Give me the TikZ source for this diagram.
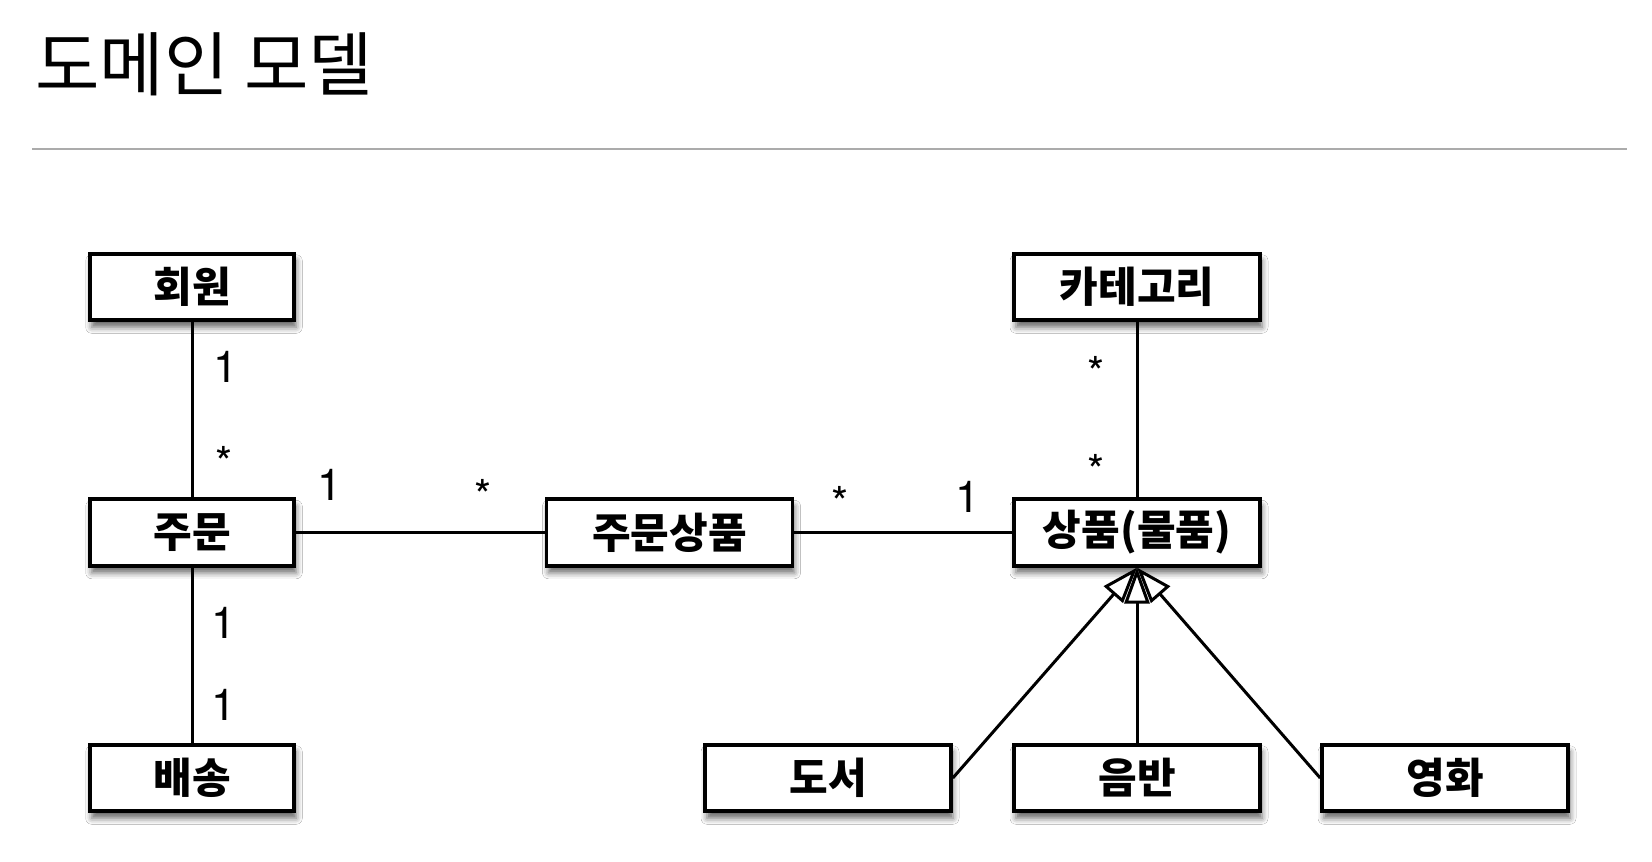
\documentclass[tikz,border=0pt]{standalone}
\usepackage{fontspec}
\setmainfont{TeX Gyre Heros}
\newfontfamily\kofont{Noto Sans CJK KR}
\usetikzlibrary{arrows.meta,shadows.blur}
\begin{document}
\begin{tikzpicture}[x=1pt,y=-1pt,
  cls/.style={draw, line width=3.6pt, fill=white, minimum height=66.5pt, inner sep=0pt,
    font=\kofont\bfseries\fontsize{42}{50}\selectfont,
    blur shadow={shadow xshift=2pt, shadow yshift=-7pt, shadow blur radius=6pt, shadow opacity=60}},
  narrow/.style={cls, minimum width=204.5pt},
  wide/.style={cls, minimum width=246pt},
  assoc/.style={line width=3pt},
  gen/.style={line width=3pt, -{Triangle[fill=white, length=36pt, width=25pt]}},
  mult/.style={font=\fontsize{44}{50}\selectfont, inner sep=0pt, anchor=base},
  rulestyle/.style={line width=1.8pt, color=black!33}
]
\useasboundingbox[fill=white] (0,0) rectangle (1652,862);
% title
\node[anchor=west, inner sep=0pt, font=\kofont\fontsize{70}{80}\selectfont] (title) at (35,64) {도메인 모델};
\coordinate (ruleL) at (32,149);
\coordinate (ruleR) at (1627,149);
\draw[rulestyle] (ruleL) -- (ruleR);
% classes
\node[narrow] (member) at (192,287) {회원};
\node[narrow] (order) at (192,532.5) {주문};
\node[narrow] (delivery) at (192,778) {배송};
\node[wide] (orderitem) at (669.5,532.5) {주문상품};
\node[wide] (category) at (1137,287) {카테고리};
\node[wide] (item) at (1137,532.5) {상품(물품)};
\node[wide] (book) at (828,778) {도서};
\node[wide] (album) at (1137,778) {음반};
\node[wide] (movie) at (1445,778) {영화};
% associations
\draw[assoc] (member) -- (order);
\draw[assoc] (order) -- (delivery);
\draw[assoc] (order) -- (orderitem);
\draw[assoc] (orderitem) -- (item);
\draw[assoc] (category) -- (item);
% generalizations
\draw[gen] (book.east) -- (item.south);
\draw[gen] (movie.west) -- (item.south);
\draw[gen] (album.north) -- (item.south);
% multiplicities
\node[mult] (m1) at (226,382) {1};
\node[mult] (m2) at (224,478.5) {*};
\node[mult] (m3) at (330,500) {1};
\node[mult] (m4) at (483.5,511.5) {*};
\node[mult] (m5) at (840,518.5) {*};
\node[mult] (m6) at (968,512) {1};
\node[mult] (m7) at (1096,388.5) {*};
\node[mult] (m8) at (1096,486.5) {*};
\node[mult] (m9) at (224,638) {1};
\node[mult] (m10) at (224,720) {1};
\end{tikzpicture}
\end{document}
